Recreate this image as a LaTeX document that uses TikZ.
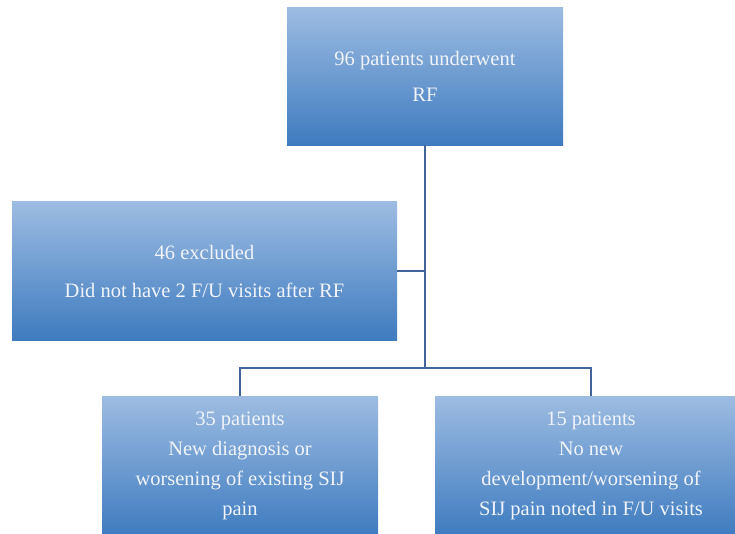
\documentclass[tikz,border=0pt]{standalone}
\usepackage{tikz}
\usepackage{fontspec}
\setmainfont{Liberation Serif}
\usetikzlibrary{positioning,calc}
\definecolor{boxtop}{HTML}{9DBCE2}
\definecolor{boxbot}{HTML}{3E7BBF}
\definecolor{linkblue}{HTML}{41649A}
\definecolor{boxtext}{HTML}{F0F4FA}
\tikzset{
    flowbox/.style={rectangle,top color=boxtop,bottom color=boxbot,text=boxtext,
        align=center,inner sep=0pt,font=\fontsize{20.5}{30}\selectfont},
    link/.style={draw=linkblue,line width=1.8pt}
}

\begin{document}
\begin{tikzpicture}[x=1pt,y=-1pt]
    \useasboundingbox (0,0) rectangle (735,533);
    \clip (0,0) rectangle (735,533);

    % Top and excluded boxes
    \node[flowbox,minimum width=276pt,minimum height=138pt,font=\fontsize{20.5}{36}\selectfont] (rf) at (425,76) {96 patients underwent\\RF};
    \node[flowbox,minimum width=385pt,minimum height=139pt,font=\fontsize{20.5}{38}\selectfont] (excl) at (204.5,271) {46 excluded\\Did not have 2 F/U visits after RF};

    % Outcome boxes
    \node[flowbox,minimum width=276pt,minimum height=140pt] (pos) at (240,466) {35 patients\\New diagnosis or\\worsening of existing SIJ\\pain};
    \node[flowbox,minimum width=312pt,minimum height=140pt] (neg) at (591,466) {15 patients\\No new\\development/worsening of\\SIJ pain noted in F/U visits};

    \coordinate (split) at (425,368);
    \draw[link] (rf.south) -- (split);
    \draw[link] (excl.east) -- (excl.east -| rf.south);
    \draw[link] (pos.north) |- (split) -| (neg.north);
\end{tikzpicture}
\end{document}
